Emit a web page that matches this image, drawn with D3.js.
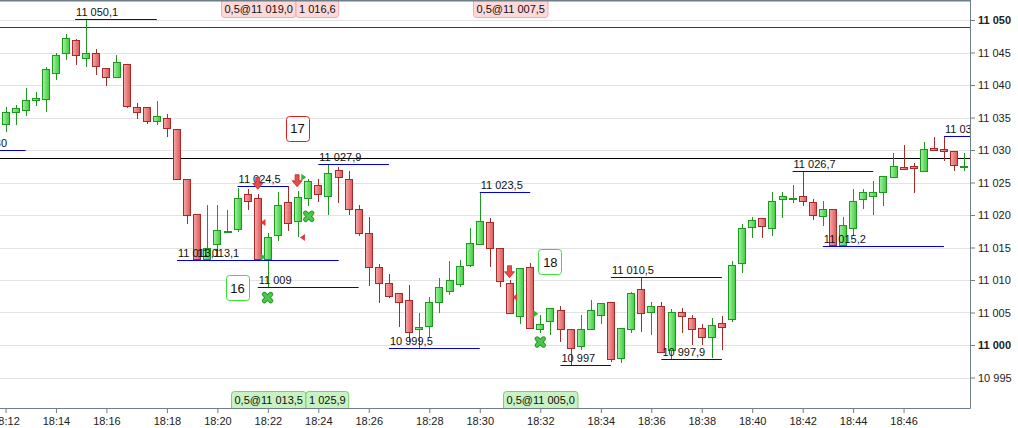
<!DOCTYPE html>
<html><head><meta charset="utf-8">
<script src="https://cdn.jsdelivr.net/npm/d3@7"></script>
<style>
html,body{margin:0;padding:0;background:#fff;}
svg{display:block;font-family:"Liberation Sans",Arial,sans-serif;}
</style></head><body>
<svg id="c" width="1018" height="428"></svg>
<script>
// ---------- DATA ----------
const candleOpen=[11034.0,11035.9,11036.2,11037.7,11037.8,11041.8,11044.9,11047.0,11044.1,11044.9,
11042.6,11041.3,11043.3,11036.6,11036.6,11034.5,11035.0,11033.3,11025.5,11020.1,
11013.3,11015.5,11017.4,11017.8,11023.2,11022.6,11013.2,11016.9,11022.0,11019.1,
11022.6,11024.6,11023.0,11026.9,11025.6,11020.9,11017.2,11011.95,11009.6,11008.0,
11006.9,11002.5,11002.9,11006.6,11008.35,11009.4,11012.3,11015.5,11018.9,11014.9,
11009.6,11004.5,11011.95,11002.4,11003.7,11005.4,11002.4,10999.85,11002.4,11004.6,
11006.6,10997.95,11002.4,11008.6,11005.0,11006.0,10999.2,11005.0,11004.1,11002.6,
11001.2,11003.4,11003.95,11012.6,11018.1,11019.5,11018.05,11022.4,11022.4,11022.9,
11022.05,11019.9,11020.9,11015.4,11018.0,11022.4,11023.0,11023.6,11025.8,11027.35,
11027.5,11026.8,11030.25,11030.1,11029.9,11027.5];
const candleHigh=[11036.6,11037.0,11039.5,11038.9,11042.7,11045.0,11047.8,11047.1,11050.1,11045.6,
11042.6,11044.6,11043.3,11037.2,11036.6,11037.6,11035.6,11033.3,11025.6,11020.1,
11021.5,11021.5,11020.7,11024.1,11024.0,11023.2,11017.2,11023.6,11024.5,11023.7,
11025.5,11025.6,11027.9,11027.4,11026.8,11021.5,11019.65,11012.5,11010.9,11008.0,
11009.2,11004.9,11007.4,11010.3,11012.9,11013.1,11018.0,11023.5,11019.5,11014.9,
11010.0,11011.9,11012.6,11004.6,11005.65,11006.0,11002.4,11004.6,11006.9,11006.4,
11006.6,11002.6,11008.2,11010.5,11006.6,11006.6,11005.5,11005.7,11004.6,11003.2,
11004.1,11004.5,11012.9,11018.6,11019.7,11019.5,11023.6,11023.6,11024.6,11026.7,
11022.4,11022.2,11020.9,11019.75,11023.95,11023.95,11025.2,11026.0,11029.6,11030.7,
11027.95,11031.2,11032.05,11032.05,11029.9,11029.6];
const candleLow=[11032.8,11033.9,11035.2,11036.8,11035.9,11040.8,11043.8,11043.1,11042.8,11041.5,
11039.8,11041.2,11036.5,11034.8,11034.0,11033.8,11032.0,11025.5,11018.6,11013.1,
11013.2,11014.4,11017.4,11017.4,11020.8,11012.9,11009.0,11016.0,11017.6,11016.6,
11021.4,11022.0,11020.0,11021.9,11020.0,11016.8,11009.1,11006.4,11007.3,11002.8,
11000.5,10999.5,11001.3,11004.9,11007.7,11009.0,11012.0,11015.5,11011.95,11009.0,
11004.9,11003.3,11002.4,11001.8,11001.5,11000.5,10996.9,10999.2,11002.4,11003.3,
10997.4,10997.2,11001.8,11002.05,11001.5,10998.8,10997.9,11001.9,11000.0,11000.0,
10998.0,10999.2,11003.6,11011.1,11016.4,11016.4,11016.8,11019.5,11021.8,11021.4,
11019.3,11018.3,11015.2,11015.2,11016.8,11020.9,11020.0,11021.4,11025.8,11026.9,
11023.4,11026.8,11030.0,11028.35,11026.8,11026.8];
const candleClose=[11035.8,11036.4,11037.7,11038.0,11042.4,11044.6,11047.3,11044.6,11044.9,11042.9,
11041.2,11043.6,11036.8,11035.8,11034.5,11035.2,11033.4,11025.6,11020.0,11013.3,
11015.0,11017.7,11017.6,11022.6,11022.2,11013.3,11016.6,11021.5,11018.8,11022.8,
11025.2,11023.3,11026.5,11025.9,11020.9,11017.2,11011.95,11009.6,11007.5,11006.6,
11002.0,11002.8,11006.6,11008.9,11010.0,11012.15,11015.65,11019.1,11014.9,11009.9,
11004.9,11011.8,11002.6,11003.2,11005.65,11002.4,10999.6,11002.4,11005.4,11006.4,
10997.8,11002.6,11007.95,11004.9,11006.0,10999.0,11005.1,11004.5,11002.4,11001.3,
11003.1,11002.8,11012.3,11017.95,11019.2,11018.3,11022.15,11022.9,11022.65,11022.15,
11020.0,11020.9,11015.4,11018.5,11022.15,11023.6,11023.6,11026.0,11027.5,11027.1,
11027.3,11030.15,11030.0,11029.9,11027.7,11027.6];

const timeTickIdx=[0,5,10,16,21,26,31,36,42,47,53,59,64,69,74,79,84,89];
const timeTickLabels=["18:12","18:14","18:16","18:18","18:20","18:22","18:24","18:26","18:28","18:30","18:32","18:34","18:36","18:38","18:40","18:42","18:44","18:46"];
const priceTicks=[10995,11000,11005,11010,11015,11020,11025,11030,11035,11040,11045,11050];
const boldPriceTicks=[11000,11050];

// horizontal reference lines
const refLineValues=[11048.9,11028.7];
const refLineColors=["#cc0000","#000000"];

// swing level lines
const levelValues=[11050.1,11030,11013.1,11013.1,11024.5,11027.9,11009,10999.5,11023.5,10997,11010.5,10997.9,11026.7,11015.2,11032.1];
const levelStart=[6.9,-3.2,17,18.9,23,31,25,38,47,55,60,65,78,81,93];
const levelEnd=[15,2,33,33,28,38,35,47,52,60,71,71,86,93,98];

// signal markers
const downArrowIdx=[25,28.9,49.95];
const downArrowValue=[11023.95,11024.35,11010.35];
const sellTriIdx=[25.52,29.43,50.46];
const sellTriValue=[11018.85,11016.54,11007.34];
const buyTriIdx=[25.54,29.56,52.56];
const buyTriValue=[11013.54,11025.8,11004.82];
const buyCrossIdx=[25.97,30.05,53.0];
const buyCrossValue=[11007.3,11019.8,11000.46];

// numbered boxes
const boxLabels=["16","17","18"];
const boxIdx=[23,28.94,54];
const boxValue=[11008.7,11033.3,11012.7];
const boxSide=["buy","sell","buy"];

// trade labels
const tradeIdx=[25,50,26,53];
const tradeSide=["sell","sell","buy","buy"];
const tradeQty=[0.5,0.5,0.5,0.5];
const tradePrice=[11019.0,11007.5,11013.5,11005.0];
const tradeExtra=[1016.6,null,1025.9,null];

// ---------- CHART ----------
const W=1018,H=428, plotR=970, plotB=408;
const svg=d3.select("#c");
const loc=d3.formatLocale({decimal:",",thousands:" ",grouping:[3],currency:["",""]});
const fmtInt=loc.format(",.0f"), fmt1=loc.format(",.1f");
const fmtLevel=v=>Number.isInteger(v)?fmtInt(v):fmt1(v);

const x=d3.scaleLinear().domain([0,95]).range([5.5,964.1]);
const y=d3.scaleLinear().domain([11050,10995]).range([20,377.5]);
const step=x(1)-x(0);

const defs=svg.append("defs");
defs.append("clipPath").attr("id","clip").append("rect").attr("x",0).attr("y",0).attr("width",plotR).attr("height",plotB);
const gg=defs.append("linearGradient").attr("id","gGreen").attr("x1",0).attr("x2",1).attr("y1",0).attr("y2",0);
gg.append("stop").attr("offset",0).attr("stop-color","#a2f2a2");
gg.append("stop").attr("offset",1).attr("stop-color","#3ccd3c");
const gr=defs.append("linearGradient").attr("id","gRed").attr("x1",0).attr("x2",1).attr("y1",0).attr("y2",0);
gr.append("stop").attr("offset",0).attr("stop-color","#f7aaaa");
gr.append("stop").attr("offset",1).attr("stop-color","#de5656");

const plot=svg.append("g").attr("clip-path","url(#clip)");

// grid
plot.selectAll(".grid").data(priceTicks).enter().append("line")
  .attr("x1",0).attr("x2",plotR)
  .attr("y1",d=>Math.round(y(d))+0.5).attr("y2",d=>Math.round(y(d))+0.5)
  .attr("stroke","#e3e3e3").attr("stroke-width",1);

// reference lines
plot.selectAll(".ref").data(refLineValues).enter().append("line")
  .attr("x1",0).attr("x2",plotR)
  .attr("y1",d=>Math.round(y(d))+0.5).attr("y2",d=>Math.round(y(d))+0.5)
  .attr("stroke",(d,i)=>refLineColors[i]).attr("stroke-width",1);

// candles
const candles=candleOpen.map((o,i)=>({i,o,h:candleHigh[i],l:candleLow[i],c:candleClose[i],up:candleClose[i]>=o}));
const cg=plot.append("g");
cg.selectAll(".wick").data(candles).enter().append("line")
  .attr("x1",d=>Math.round(x(d.i))+0.5).attr("x2",d=>Math.round(x(d.i))+0.5)
  .attr("y1",d=>Math.round(y(d.h))).attr("y2",d=>Math.round(y(d.l)))
  .attr("stroke",d=>d.up?"#1f961f":"#a52a2a").attr("stroke-width",1);
cg.selectAll(".body").data(candles).enter().append("rect")
  .attr("x",d=>Math.round(x(d.i)-step*0.39)+0.5)
  .attr("width",Math.round(step*0.78)-1)
  .attr("y",d=>Math.round(y(Math.max(d.o,d.c)))+0.5)
  .attr("height",d=>Math.max(1,Math.round(y(Math.min(d.o,d.c)))-Math.round(y(Math.max(d.o,d.c)))))
  .attr("fill",d=>d.up?"url(#gGreen)":"url(#gRed)")
  .attr("stroke",d=>d.up?"#1f961f":"#a52a2a").attr("stroke-width",1);

// level lines
const levels=levelValues.map((v,i)=>({v,s:levelStart[i],e:levelEnd[i]}));
const lg=plot.append("g");
lg.selectAll("line").data(levels).enter().append("line")
  .attr("x1",d=>x(d.s)).attr("x2",d=>x(d.e))
  .attr("y1",d=>Math.round(y(d.v))+0.5).attr("y2",d=>Math.round(y(d.v))+0.5)
  .attr("stroke","#0000dd").attr("stroke-width",1);
lg.selectAll("text").data(levels).enter().append("text")
  .attr("x",d=>x(d.s)+1).attr("y",d=>Math.round(y(d.v))-3)
  .attr("font-size",11).attr("fill","#111").text(d=>fmtLevel(d.v));

// markers
const mg=plot.append("g");
mg.selectAll(".arr").data(downArrowIdx).enter().append("path")
  .attr("transform",(d,i)=>`translate(${x(d)},${y(downArrowValue[i])})`)
  .attr("d","M0,0 L-5,-6 L-2,-6 L-2,-12 L2,-12 L2,-6 L5,-6 Z")
  .attr("fill","#ea4a4a").attr("stroke","#c02a2a").attr("stroke-width",0.8);
mg.selectAll(".stri").data(sellTriIdx).enter().append("path")
  .attr("transform",(d,i)=>`translate(${x(d)},${y(sellTriValue[i])})`)
  .attr("d","M-2.5,0 L2.5,-3.5 L2.5,3.5 Z").attr("fill","#e03a3a");
mg.selectAll(".btri").data(buyTriIdx).enter().append("path")
  .attr("transform",(d,i)=>`translate(${x(d)},${y(buyTriValue[i])})`)
  .attr("d","M2.5,0 L-2.5,-3.5 L-2.5,3.5 Z").attr("fill","#2fb82f");
buyCrossIdx.forEach((d,i)=>{
  const g=mg.append("g").attr("transform",`translate(${x(d)},${y(buyCrossValue[i])})`);
  [[-3.2,-3.2,3.2,3.2],[-3.2,3.2,3.2,-3.2]].forEach(p=>{
    g.append("line").attr("x1",p[0]).attr("y1",p[1]).attr("x2",p[2]).attr("y2",p[3])
     .attr("stroke","#279a27").attr("stroke-width",5).attr("stroke-linecap","round");
  });
  [[-3.2,-3.2,3.2,3.2],[-3.2,3.2,3.2,-3.2]].forEach(p=>{
    g.append("line").attr("x1",p[0]).attr("y1",p[1]).attr("x2",p[2]).attr("y2",p[3])
     .attr("stroke","#4cc84c").attr("stroke-width",3).attr("stroke-linecap","round");
  });
});

// numbered boxes
boxLabels.forEach((t,i)=>{
  const cx=x(boxIdx[i]), cy=y(boxValue[i]);
  const g=plot.append("g");
  g.append("rect").attr("x",Math.round(cx-12)+0.5).attr("y",Math.round(cy-13)+0.5)
   .attr("width",23).attr("height",25).attr("rx",3)
   .attr("fill","#fff").attr("stroke",boxSide[i]==="buy"?"#3ce03c":"#e02020").attr("stroke-width",1);
  g.append("text").attr("x",cx).attr("y",cy+4.5).attr("text-anchor","middle")
   .attr("font-size",13).attr("fill","#111").text(t);
});

// trade labels
tradeIdx.forEach((d,i)=>{
  const sell=tradeSide[i]==="sell";
  const fill=sell?"#ffd8d8":"#c9f2c2", stroke=sell?"#f2aaaa":"#78d070";
  const t1=loc.format(".1f")(tradeQty[i])+"@"+fmt1(tradePrice[i]);
  const g=plot.append("g");
  const ry=sell?-4:391, ty=sell?13:403.5;
  const txt=g.append("text").attr("font-size",11).attr("fill","#111").text(t1);
  const w1=txt.node().getComputedTextLength()+6;
  const x0=Math.round(x(d)-w1/2);
  g.insert("rect","text").attr("x",x0+0.5).attr("y",ry+0.5).attr("width",w1).attr("height",21).attr("rx",3)
   .attr("fill",fill).attr("stroke",stroke);
  txt.attr("x",x0+3.5).attr("y",ty);
  if(tradeExtra[i]!==null){
    const t2=g.append("text").attr("font-size",11).attr("fill","#111").text(fmt1(tradeExtra[i]));
    const w2=t2.node().getComputedTextLength()+6;
    const x1=x0+w1;
    g.insert("rect","text").attr("x",x1+0.5).attr("y",ry+0.5).attr("width",w2).attr("height",21).attr("rx",3)
     .attr("fill",fill).attr("stroke",stroke);
    t2.attr("x",x1+3.5).attr("y",ty);
  }
});

// axes
const yAxis=d3.axisRight(y).tickValues(priceTicks).tickFormat(fmtInt).tickSize(5).tickPadding(3);
const ya=svg.append("g").attr("transform",`translate(${plotR},0)`).call(yAxis);
ya.select(".domain").remove();
ya.selectAll(".tick line").attr("stroke","#6f7f8a");
ya.selectAll(".tick text").attr("font-size",11).attr("fill","#222").attr("font-family",null)
  .attr("font-weight",d=>boldPriceTicks.includes(d)?"bold":"normal");

const xAxis=d3.axisBottom(x).tickValues(timeTickIdx).tickFormat((d,i)=>timeTickLabels[i]).tickSize(5).tickPadding(4);
const xa=svg.append("g").attr("transform",`translate(0,${plotB})`).call(xAxis);
xa.select(".domain").remove();
xa.selectAll(".tick line").attr("stroke","#6f7f8a");
xa.selectAll(".tick text").attr("font-size",11).attr("fill","#222").attr("font-family",null);

// frame
svg.append("line").attr("x1",0).attr("x2",plotR+0.5).attr("y1",plotB+0.5).attr("y2",plotB+0.5).attr("stroke","#6f7f8a");
svg.append("line").attr("x1",plotR+0.5).attr("x2",plotR+0.5).attr("y1",0).attr("y2",plotB+0.5).attr("stroke","#6f7f8a");
svg.append("line").attr("x1",0).attr("x2",plotR).attr("y1",0.75).attr("y2",0.75).attr("stroke","#6f7f8a").attr("stroke-width",1.5);
</script>
</body></html>
